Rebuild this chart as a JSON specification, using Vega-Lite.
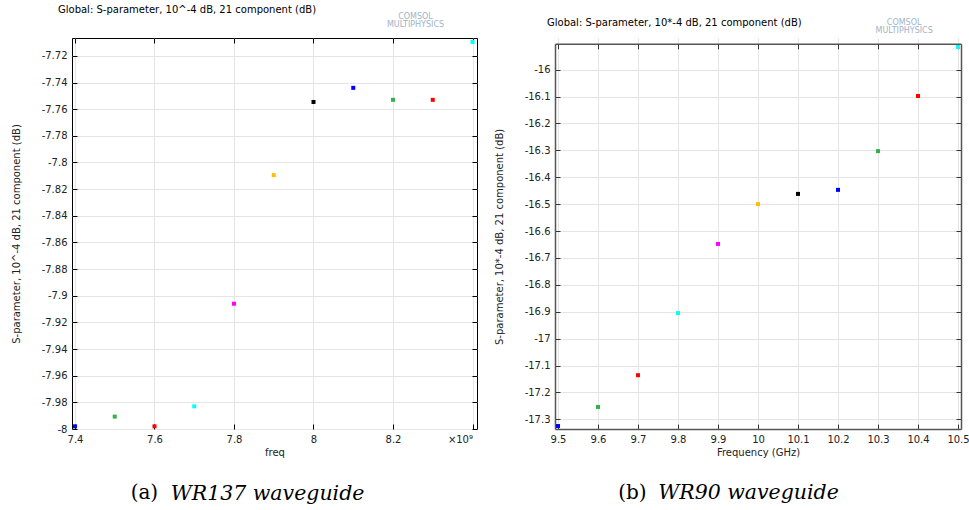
{
  "$schema": "https://vega.github.io/schema/vega-lite/v6.json",
  "background": "white",
  "padding": {"left": 10, "top": 5, "right": 0, "bottom": 0},
  "spacing": 16,
  "datasets": {
    "wr137": [
      {"freq": 7.4e9, "s21": -7.998, "curve": 1},
      {"freq": 7.5e9, "s21": -7.9907, "curve": 2},
      {"freq": 7.6e9, "s21": -7.998, "curve": 3},
      {"freq": 7.7e9, "s21": -7.983, "curve": 4},
      {"freq": 7.8e9, "s21": -7.906, "curve": 5},
      {"freq": 7.9e9, "s21": -7.8095, "curve": 6},
      {"freq": 8.0e9, "s21": -7.7546, "curve": 7},
      {"freq": 8.1e9, "s21": -7.744, "curve": 1},
      {"freq": 8.2e9, "s21": -7.753, "curve": 2},
      {"freq": 8.3e9, "s21": -7.753, "curve": 3},
      {"freq": 8.4e9, "s21": -7.7095, "curve": 4}
    ],
    "wr90": [
      {"freq": 9.5, "s21": -17.325, "curve": 1},
      {"freq": 9.6, "s21": -17.254, "curve": 2},
      {"freq": 9.7, "s21": -17.136, "curve": 3},
      {"freq": 9.8, "s21": -16.905, "curve": 4},
      {"freq": 9.9, "s21": -16.648, "curve": 5},
      {"freq": 10.0, "s21": -16.5, "curve": 6},
      {"freq": 10.1, "s21": -16.462, "curve": 7},
      {"freq": 10.2, "s21": -16.447, "curve": 1},
      {"freq": 10.3, "s21": -16.303, "curve": 2},
      {"freq": 10.4, "s21": -16.098, "curve": 3},
      {"freq": 10.5, "s21": -15.916, "curve": 4}
    ]
  },
  "hconcat": [
    {
      "title": {"text": "(a)", "orient": "bottom", "anchor": "start", "frame": "bounds", "dx": 120, "dy": -21, "font": "DejaVu Serif", "fontStyle": "normal", "fontSize": 20, "fontWeight": "normal", "offset": 0, "color": "black"},
      "vconcat": [
        {
          "title": {"text": "WR137 waveguide", "orient": "bottom", "anchor": "start", "frame": "bounds", "dx": 160, "font": "DejaVu Serif", "fontStyle": "italic", "fontSize": 20.5, "fontWeight": "normal", "offset": 26, "color": "black"},
          "vconcat": [
            {
              "title": {"text": "Global: S-parameter, 10^-4 dB, 21 component (dB)", "anchor": "start", "frame": "group", "dx": -14, "fontSize": 10, "fontWeight": "normal", "font": "DejaVu Sans", "color": "black", "offset": -3},
              "vconcat": [
                {
                  "title": {"text": "COMSOL", "subtitle": "MULTIPHYSICS", "anchor": "end", "align": "center", "dx": -62, "font": "DejaVu Sans", "fontSize": 8, "fontWeight": "normal", "color": "#9fb3c6", "subtitleFont": "DejaVu Sans", "subtitleFontSize": 8, "subtitleColor": "#9fb3c6", "subtitlePadding": 0, "offset": 9},
                  "width": 405,
                  "height": 391,
                  "data": {"name": "wr137"},
                  "view": {"stroke": "black", "strokeWidth": 1},
                  "layer": [
                    {
                      "mark": {"type": "point", "shape": "square", "filled": true, "size": 16, "opacity": 1},
                      "encoding": {
                        "x": {"field": "freq", "type": "quantitative", "title": "freq",
                          "scale": {"domain": [7.3925e9, 8.4113e9], "nice": false, "zero": false},
                          "axis": {"values": [7.4e9, 7.6e9, 7.8e9, 8.0e9, 8.2e9, 8.4e9],
                            "labelExpr": "datum.value > 8.3e9 ? '×10⁹' : (datum.value / 1e9) + ''",
                            "labelAlign": {"condition": {"test": "datum.value > 8.3e9", "value": "right"}, "value": "center"}}},
                        "y": {"field": "s21", "type": "quantitative", "title": "S-parameter, 10^-4 dB, 21 component (dB)",
                          "scale": {"domain": [-8.0, -7.7066], "nice": false, "zero": false},
                          "axis": {"values": [-8, -7.98, -7.96, -7.94, -7.92, -7.9, -7.88, -7.86, -7.84, -7.82, -7.8, -7.78, -7.76, -7.74, -7.72],
                            "labelExpr": "datum.value + ''"}},
                        "color": {"field": "curve", "type": "nominal", "legend": null,
                          "scale": {"domain": [1, 2, 3, 4, 5, 6, 7], "range": ["#0000ff", "#2fb34a", "#ff0000", "#00ffff", "#ff00ff", "#ffbf00", "#000000"]}}
                      }
                    },
                    {
                      "mark": {"type": "point", "opacity": 0},
                      "encoding": {
                        "x": {"field": "freq", "type": "quantitative", "axis": {"orient": "top", "labels": false, "grid": false, "title": null, "values": [7.4e9, 7.6e9, 7.8e9, 8.0e9, 8.2e9, 8.4e9]}},
                        "y": {"field": "s21", "type": "quantitative", "axis": {"orient": "right", "labels": false, "grid": false, "title": null, "values": [-8, -7.98, -7.96, -7.94, -7.92, -7.9, -7.88, -7.86, -7.84, -7.82, -7.8, -7.78, -7.76, -7.74, -7.72]}}
                      }
                    }
                  ],
                  "resolve": {"axis": {"x": "independent", "y": "independent"}}
                }
              ]
            }
          ]
        }
      ]
    },
    {
      "title": {"text": "(b)", "orient": "bottom", "anchor": "start", "frame": "bounds", "dx": 124, "dy": -21, "font": "DejaVu Serif", "fontStyle": "normal", "fontSize": 20, "fontWeight": "normal", "offset": 0, "color": "black"},
      "vconcat": [
        {
          "title": {"text": "WR90 waveguide", "orient": "bottom", "anchor": "start", "frame": "bounds", "dx": 164, "font": "DejaVu Serif", "fontStyle": "italic", "fontSize": 20.5, "fontWeight": "normal", "offset": 26, "color": "black"},
          "vconcat": [
            {
              "title": {"text": "Global: S-parameter, 10*-4 dB, 21 component (dB)", "anchor": "start", "frame": "group", "dx": -8, "dy": 6, "fontSize": 10, "fontWeight": "normal", "font": "DejaVu Sans", "color": "black", "offset": -3},
              "vconcat": [
                {
                  "title": {"text": "COMSOL", "subtitle": "MULTIPHYSICS", "anchor": "end", "align": "center", "dx": -65, "dy": 6, "font": "DejaVu Sans", "fontSize": 8, "fontWeight": "normal", "color": "#9fb3c6", "subtitleFont": "DejaVu Sans", "subtitleFontSize": 8, "subtitleColor": "#9fb3c6", "subtitlePadding": 0, "offset": 9},
                  "width": 406,
                  "height": 391,
                  "data": {"name": "wr90"},
                  "view": {"stroke": null},
                  "layer": [
                    {
                      "mark": {"type": "point", "shape": "square", "filled": true, "size": 16, "opacity": 1},
                      "encoding": {
                        "x": {"field": "freq", "type": "quantitative", "title": "Frequency (GHz)",
                          "scale": {"domain": [9.4925, 10.5075], "nice": false, "zero": false},
                          "axis": {"values": [9.5, 9.6, 9.7, 9.8, 9.9, 10, 10.1, 10.2, 10.3, 10.4, 10.5],
                            "labelExpr": "datum.value + ''", "tickColor": "#333333", "domain": true, "domainColor": "#555555", "domainWidth": 1.5}},
                        "y": {"field": "s21", "type": "quantitative", "title": "S-parameter, 10*-4 dB, 21 component (dB)",
                          "scale": {"domain": [-17.336, -15.904], "range": [391, 5.8], "nice": false, "zero": false},
                          "axis": {"values": [-17.3, -17.2, -17.1, -17, -16.9, -16.8, -16.7, -16.6, -16.5, -16.4, -16.3, -16.2, -16.1, -16],
                            "labelExpr": "datum.value + ''", "tickColor": "#333333", "domain": true, "domainColor": "#555555", "domainWidth": 1.5}},
                        "color": {"field": "curve", "type": "nominal", "legend": null,
                          "scale": {"domain": [1, 2, 3, 4, 5, 6, 7], "range": ["#0000ff", "#2fb34a", "#ff0000", "#00ffff", "#ff00ff", "#ffbf00", "#000000"]}}
                      }
                    },
                    {
                      "mark": {"type": "point", "opacity": 0},
                      "encoding": {
                        "x": {"field": "freq", "type": "quantitative", "axis": {"orient": "top", "offset": -5.8, "labels": false, "grid": false, "title": null, "tickColor": "#333333", "domain": true, "domainColor": "#555555", "domainWidth": 1.5, "values": [9.5, 9.6, 9.7, 9.8, 9.9, 10, 10.1, 10.2, 10.3, 10.4, 10.5]}},
                        "y": {"field": "s21", "type": "quantitative", "axis": {"orient": "right", "labels": false, "grid": false, "title": null, "tickColor": "#333333", "domain": true, "domainColor": "#555555", "domainWidth": 1.5, "values": [-17.3, -17.2, -17.1, -17, -16.9, -16.8, -16.7, -16.6, -16.5, -16.4, -16.3, -16.2, -16.1, -16]}}
                      }
                    }
                  ],
                  "resolve": {"axis": {"x": "independent", "y": "independent"}}
                }
              ]
            }
          ]
        }
      ]
    }
  ],
  "config": {
    "font": "DejaVu Sans",
    "axis": {
      "labelFont": "DejaVu Sans",
      "labelFontSize": 10,
      "labelColor": "#222222",
      "titleFont": "DejaVu Sans",
      "titleFontSize": 10,
      "titleFontWeight": "normal",
      "titleColor": "#222222",
      "tickSize": -5,
      "tickColor": "black",
      "domain": false,
      "grid": true,
      "gridColor": "#e4e4e4",
      "labelPadding": 10,
      "titlePadding": 3
    },
    "axisY": {"titlePadding": 20}
  }
}
